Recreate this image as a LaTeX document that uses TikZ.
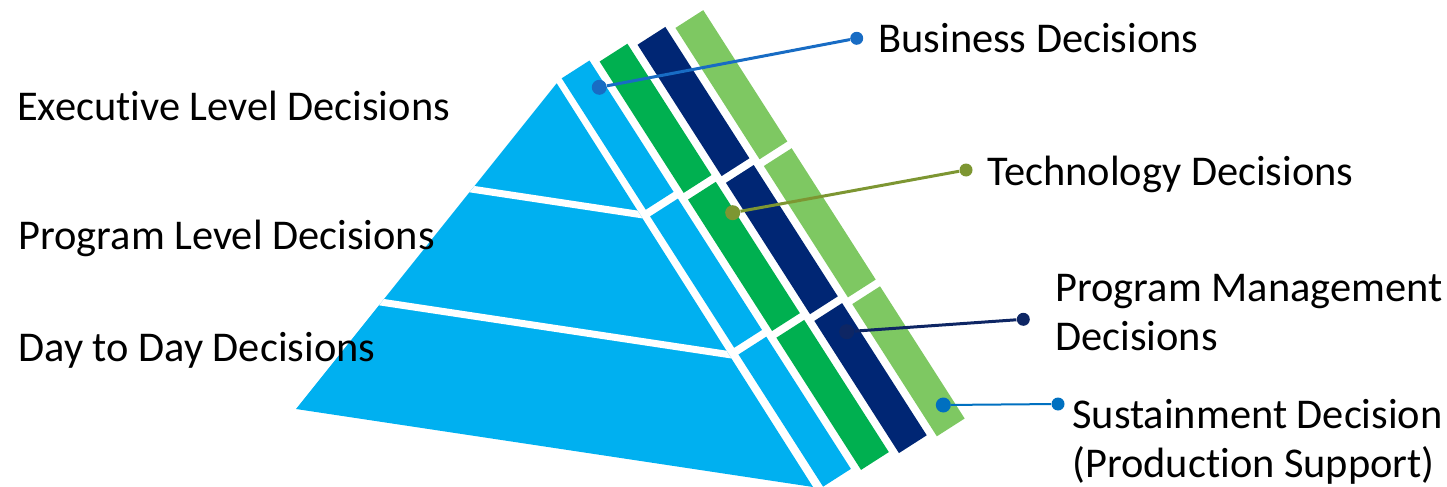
\documentclass[tikz,border=0pt]{standalone}
\usepackage{fontspec}
\setmainfont{Carlito}[Ligatures=NoCommon]
\usepackage{tikz}
\usetikzlibrary{calc, %for points on the face edges
                positioning}

\definecolor{faceblue}{RGB}{0,176,240}
\definecolor{techgreen}{RGB}{0,176,80}
\definecolor{mgmtnavy}{RGB}{0,38,116}
\definecolor{sustgreen}{RGB}{126,200,98}
\definecolor{bizline}{RGB}{24,108,196}
\definecolor{techline}{RGB}{125,150,50}
\definecolor{mgmtline}{RGB}{14,38,100}
\definecolor{sustline}{RGB}{0,112,192}

\begin{document}
\begin{tikzpicture}[x=0.5pt, y=-0.5pt,
    Tier/.style={draw=white, line width=3.5pt},
    Lbl/.style={anchor=base west, inner sep=0pt, align=left,
                font=\fontsize{21.2pt}{24.5pt}\selectfont},
    Dot/.style={circle, inner sep=0pt, minimum size=7.5pt, fill=#1},
    EndDot/.style={circle, inner sep=0pt, minimum size=6.5pt, fill=#1},
    Lead/.style={draw=#1, line width=1.5pt}
    ]
    \useasboundingbox (0,0) rectangle (1447,487);

    %front face of the pyramid
    \coordinate (apex) at (556.7,83.3);
    \coordinate (baseW) at (296,409);
    \coordinate (baseE) at (813,487);
    \fill[faceblue] (apex) -- (baseW) -- (baseE) -- cycle;
    \begin{scope}
        \clip (apex) -- (baseW) -- (baseE) -- cycle;
        \foreach \f in {0.325, 0.672}
            \draw[Tier, shorten <=-8pt, shorten >=-8pt] ($(apex)!\f!(baseW)$) -- ($(apex)!\f!(baseE)$);
    \end{scope}

    %side strips, x along the strips, y across them
    \begin{scope}[shift={(561.7,78.3)}, x={(0.2695pt,-0.421pt)}, y={(0.421pt,0.2695pt)}]
        \foreach \k/\col in {0/faceblue, 1/techgreen, 2/mgmtnavy, 3/sustgreen}
            \foreach \a/\b in {0/156, 164/320, 328/485}
                \fill[\col] ({6.3*\k+\a},{41*\k}) -- ({6.3*\k+\b},{41*\k})
                    -- ({6.3*\k+\b},{41*\k+33}) -- ({6.3*\k+\a},{41*\k+33}) -- cycle;
    \end{scope}

    %level labels
    \node[Lbl] (execTxt) at (16.7,120) {Executive Level Decisions};
    \node[Lbl] (progTxt) at (18,249) {Program Level Decisions};
    \node[Lbl] (dayTxt)  at (18,361) {Day to Day Decisions};

    %leaders (base of a two-line label is its last line)
    \node[Dot=bizline] (bizIn) at (599.3,87.3) {};
    \node[EndDot=bizline] (bizOut) at (856.7,38.3) {};
    \draw[Lead=bizline] (bizIn) -- (bizOut);
    \node[Lbl] (bizTxt) at (878,52.7) {Business Decisions};

    \node[Dot=techline] (techIn) at (732.7,212.7) {};
    \node[EndDot=techline] (techOut) at (966,170) {};
    \draw[Lead=techline] (techIn) -- (techOut);
    \node[Lbl] (techTxt) at (987,185) {Technology Decisions};

    \node[Dot=mgmtline] (mgmtIn) at (846.7,331.7) {};
    \node[EndDot=mgmtline] (mgmtOut) at (1023.3,319.3) {};
    \draw[Lead=mgmtline] (mgmtIn) -- (mgmtOut);
    \node[Lbl] (mgmtTxt) at (1055,350.7) {Program Management\\Decisions};

    \node[Dot=sustline] (sustIn) at (943.3,405) {};
    \node[EndDot=sustline] (sustOut) at (1058,404) {};
    \draw[Lead=sustline, line width=1pt] (sustIn) -- (sustOut);
    \node[Lbl] (sustTxt) at (1072,477) {Sustainment Decision\\(Production Support)};
\end{tikzpicture}
\end{document}
